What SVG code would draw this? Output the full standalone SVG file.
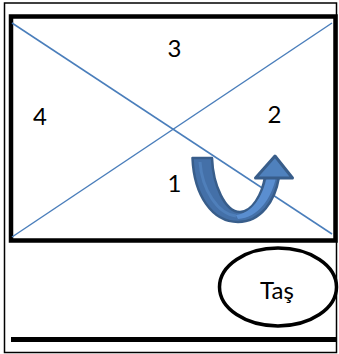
<svg xmlns="http://www.w3.org/2000/svg" width="339" height="354" viewBox="0 0 339 354">
<style>
.lbl{font-family:Lato,"Liberation Sans",sans-serif;font-size:24px;fill:#000;text-anchor:middle}
.diag{stroke:#4A7EBB;stroke-width:1.5;fill:none}
</style>
<defs>
<filter id="sh" x="-5%" y="-100%" width="110%" height="400%"><feGaussianBlur stdDeviation="1.5"/></filter>
</defs>
<rect width="339" height="354" fill="#fff"/>
<g id="frame">
<rect x="4.5" y="3" width="332" height="349.5" fill="none" stroke="#000" stroke-width="1.5"/>
</g>
<g id="board">
<rect x="11" y="16.5" width="324.5" height="224" fill="none" stroke="#000" stroke-width="4.5"/>
</g>
<g id="connectors">
<line class="diag" x1="12" y1="23" x2="332" y2="234"/>
<line class="diag" x1="12" y1="237" x2="332" y2="23"/>
</g>
<g id="labels">
<text class="lbl" x="174.5" y="57">3</text>
<text class="lbl" x="40" y="125">4</text>
<text class="lbl" x="274.5" y="123">2</text>
<text class="lbl" x="174.5" y="192">1</text>
</g>
<g id="arrow">
<path d="M192.5,158 L212,158 C213,185 225,212 240,212 C252,212 262,195 265,177 L279,177 C275,201 261,222 238,222 C212,222 194,195 192.5,158 Z" fill="#4470A8" stroke="#385D8A" stroke-width="2.5" stroke-linejoin="round"/>
<path d="M200,162 C202,190 218,214 236,216" fill="none" stroke="#4F7FBA" stroke-width="3"/>
<path d="M236,215 C252,213 262,198 267,177 L276,177 C272,198 258,218 238,219 Z" fill="#5A8ED0"/>
<path d="M255.5,178 L275,156 L292.5,178 Z" fill="#4F81BD" stroke="#385D8A" stroke-width="3" stroke-linejoin="round"/>
</g>
<g id="stone">
<ellipse cx="278" cy="287" rx="58.5" ry="39" fill="#fff" stroke="#000" stroke-width="3.5"/>
<text class="lbl" x="277" y="299">Taş</text>
</g>
<g id="base">
<line x1="12" y1="344" x2="337" y2="344" stroke="#999" stroke-width="3" filter="url(#sh)"/>
<line x1="11" y1="339.5" x2="337" y2="339.5" stroke="#000" stroke-width="5"/>
</g>
</svg>
